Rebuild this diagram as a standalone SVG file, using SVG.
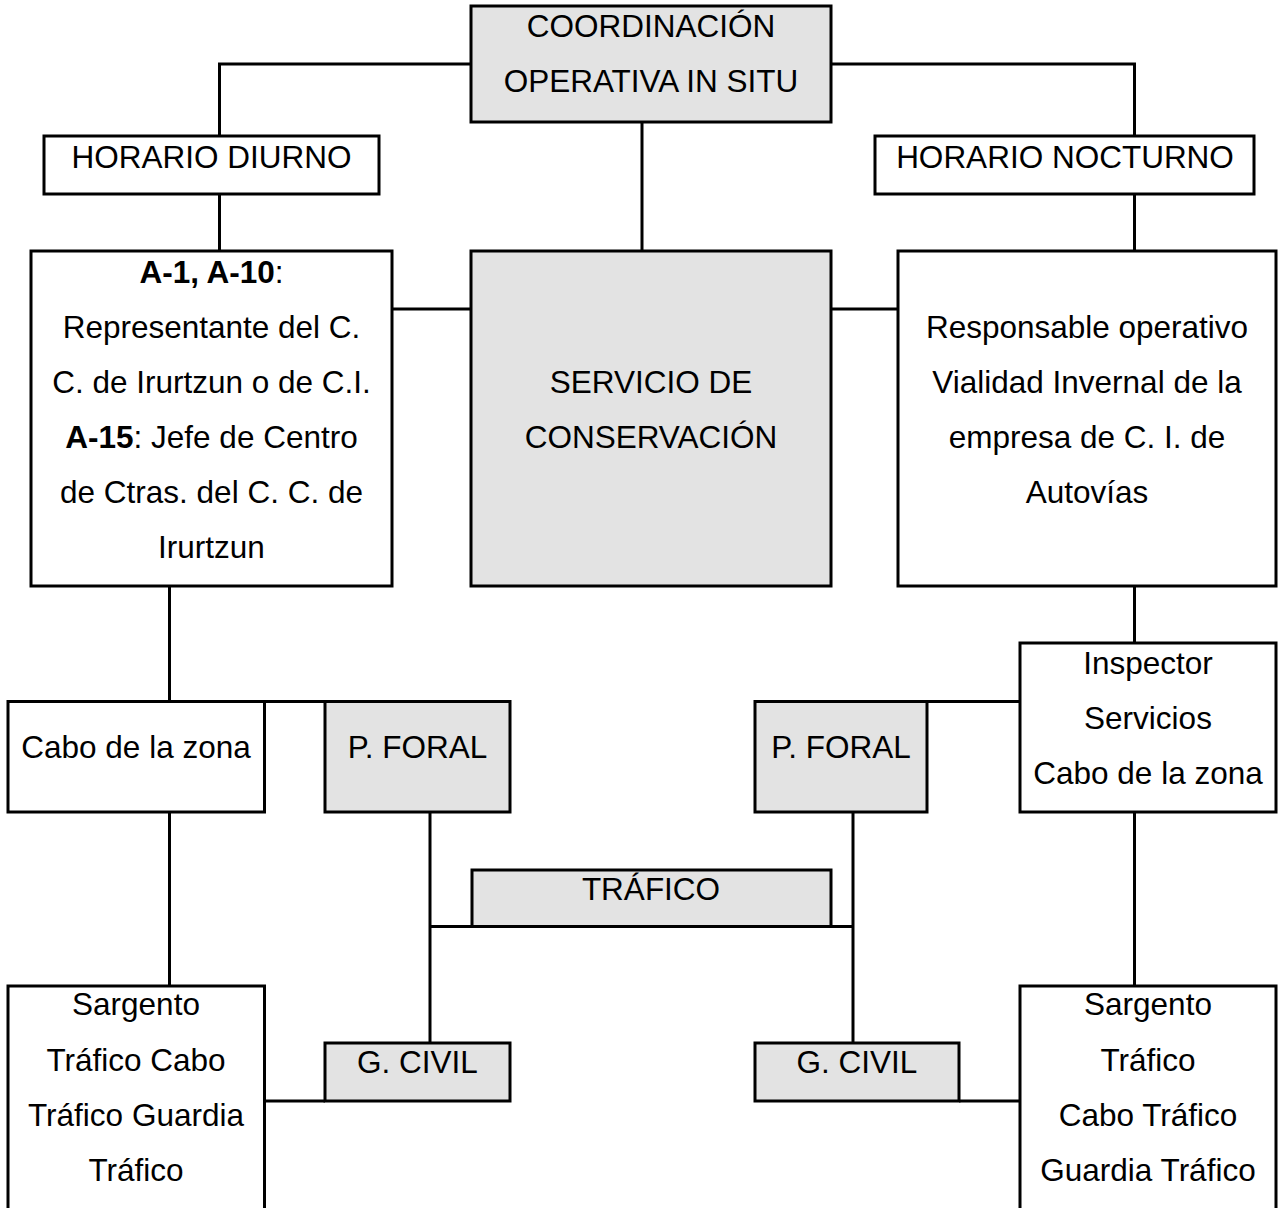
<svg xmlns="http://www.w3.org/2000/svg" width="1280" height="1208" viewBox="0 0 1280 1208">
  <style>
    .box { fill: #ffffff; stroke: #000000; stroke-width: 3; }
    .shade { fill: #e3e3e3; stroke: #000000; stroke-width: 3; }
    .link { fill: none; stroke: #000000; stroke-width: 3; }
    text { font-family: "Liberation Sans", Arial, sans-serif; font-size: 31.5px; fill: #000000; text-anchor: middle; }
    .b { font-weight: bold; }
  </style>
  <rect width="1280" height="1208" fill="#ffffff"/>

  <!-- connectors -->
  <g id="connectors" class="link">
    <polyline points="471,64 219.5,64 219.5,136"/>
    <polyline points="831,64 1134.5,64 1134.5,136"/>
    <line x1="219.5" y1="194" x2="219.5" y2="251"/>
    <line x1="1134.5" y1="194" x2="1134.5" y2="251"/>
    <line x1="642" y1="122" x2="642" y2="251"/>
    <line x1="392" y1="309" x2="471" y2="309"/>
    <line x1="831" y1="309" x2="898" y2="309"/>
    <line x1="169.5" y1="586" x2="169.5" y2="701.5"/>
    <line x1="264.5" y1="701.5" x2="325" y2="701.5"/>
    <line x1="1134.5" y1="586" x2="1134.5" y2="643"/>
    <line x1="927" y1="701.5" x2="1020" y2="701.5"/>
    <line x1="169.5" y1="812" x2="169.5" y2="986"/>
    <line x1="1134.5" y1="812" x2="1134.5" y2="986"/>
    <line x1="430" y1="812" x2="430" y2="1043"/>
    <line x1="853" y1="812" x2="853" y2="1043"/>
    <line x1="430" y1="926.5" x2="853" y2="926.5"/>
    <line x1="264.5" y1="1101" x2="325" y2="1101"/>
    <line x1="959" y1="1101" x2="1020" y2="1101"/>
  </g>

  <g id="coordinacion">
    <rect class="shade" x="471" y="6" width="360" height="116"/>
    <text x="651" y="37">COORDINACIÓN</text>
    <text x="651" y="92">OPERATIVA IN SITU</text>
  </g>

  <g id="horario-diurno">
    <rect class="box" x="44" y="136" width="335" height="58"/>
    <text x="211.5" y="168">HORARIO DIURNO</text>
  </g>

  <g id="horario-nocturno">
    <rect class="box" x="875" y="136" width="379" height="58"/>
    <text x="1065" y="168">HORARIO NOCTURNO</text>
  </g>

  <g id="representante">
    <rect class="box" x="31" y="251" width="361" height="335"/>
    <text x="211.5" y="283"><tspan class="b">A-1, A-10</tspan>:</text>
    <text x="211.5" y="338">Representante del C.</text>
    <text x="211.5" y="393">C. de Irurtzun o de C.I.</text>
    <text x="211.5" y="448"><tspan class="b">A-15</tspan>: Jefe de Centro</text>
    <text x="211.5" y="503">de Ctras. del C. C. de</text>
    <text x="211.5" y="558">Irurtzun</text>
  </g>

  <g id="servicio-conservacion">
    <rect class="shade" x="471" y="251" width="360" height="335"/>
    <text x="651" y="393">SERVICIO DE</text>
    <text x="651" y="448">CONSERVACIÓN</text>
  </g>

  <g id="responsable-operativo">
    <rect class="box" x="898" y="251" width="378" height="335"/>
    <text x="1087" y="338">Responsable operativo</text>
    <text x="1087" y="393">Vialidad Invernal de la</text>
    <text x="1087" y="448">empresa de C. I. de</text>
    <text x="1087" y="503">Autovías</text>
  </g>

  <g id="cabo-zona">
    <rect class="box" x="8" y="701.5" width="256.5" height="110.5"/>
    <text x="136" y="758">Cabo de la zona</text>
  </g>

  <g id="foral-izq">
    <rect class="shade" x="325" y="701.5" width="185" height="110.5"/>
    <text x="417.5" y="758">P. FORAL</text>
  </g>

  <g id="foral-der">
    <rect class="shade" x="755" y="701.5" width="172" height="110.5"/>
    <text x="841" y="758">P. FORAL</text>
  </g>

  <g id="inspector">
    <rect class="box" x="1020" y="643" width="256" height="169"/>
    <text x="1148" y="674">Inspector</text>
    <text x="1148" y="729">Servicios</text>
    <text x="1148" y="784">Cabo de la zona</text>
  </g>

  <g id="trafico">
    <rect class="shade" x="472" y="870" width="359" height="56.5"/>
    <text x="651" y="900">TRÁFICO</text>
  </g>

  <g id="civil-izq">
    <rect class="shade" x="325" y="1043" width="185" height="58"/>
    <text x="417.5" y="1073">G. CIVIL</text>
  </g>

  <g id="civil-der">
    <rect class="shade" x="755" y="1043" width="204" height="58"/>
    <text x="857" y="1073">G. CIVIL</text>
  </g>

  <g id="guardia-izq">
    <rect class="box" x="8" y="986" width="256.5" height="240"/>
    <text x="136" y="1015">Sargento</text>
    <text x="136" y="1071">Tráfico Cabo</text>
    <text x="136" y="1126">Tráfico Guardia</text>
    <text x="136" y="1181">Tráfico</text>
  </g>

  <g id="guardia-der">
    <rect class="box" x="1020" y="986" width="256" height="240"/>
    <text x="1148" y="1015">Sargento</text>
    <text x="1148" y="1071">Tráfico</text>
    <text x="1148" y="1126">Cabo Tráfico</text>
    <text x="1148" y="1181">Guardia Tráfico</text>
  </g>
</svg>
